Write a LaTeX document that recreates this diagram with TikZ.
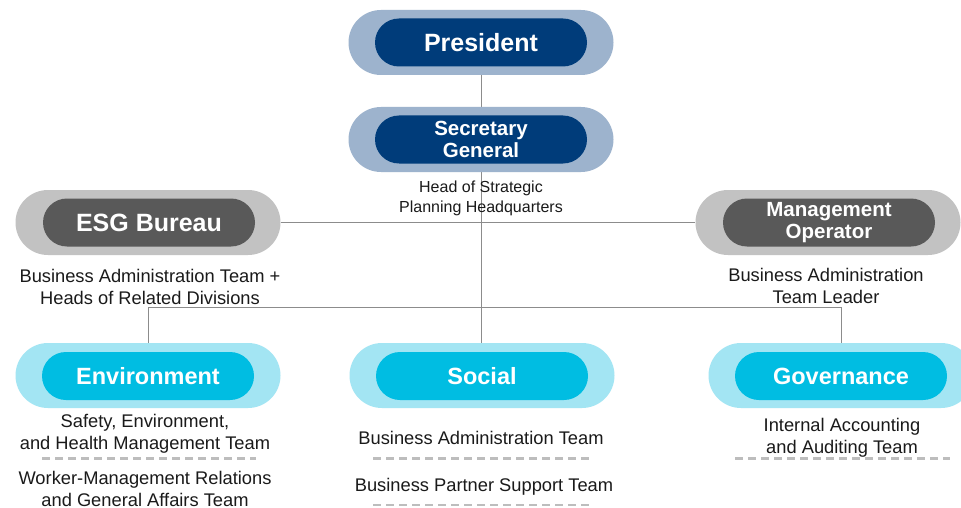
\documentclass[tikz,border=0pt]{standalone}
\usepackage{fontspec}
\setmainfont{Liberation Sans}
\usetikzlibrary{backgrounds}
\definecolor{navyO}{HTML}{9DB3CD}
\definecolor{navyI}{HTML}{003C7A}
\definecolor{grayO}{HTML}{C2C2C2}
\definecolor{grayI}{HTML}{595959}
\definecolor{cyanO}{HTML}{A3E5F3}
\definecolor{cyanI}{HTML}{00BDE2}
\definecolor{linec}{HTML}{8C8C8C}
\definecolor{dashc}{HTML}{BDBDBD}
\definecolor{txt}{HTML}{1A1A1A}
\tikzset{
  outerbox/.style={rectangle, rounded corners=32.5pt, minimum width=265pt, minimum height=65pt, inner sep=0pt},
  innerbox/.style={rectangle, rounded corners=24pt, minimum width=212pt, minimum height=48pt, inner sep=0pt, text=white, align=center},
  bigfont/.style={font=\fontsize{25}{28}\selectfont\bfseries},
  midfont/.style={font=\fontsize{23.5}{26}\selectfont\bfseries},
  twofont/.style={font=\fontsize{20.5}{22}\selectfont\bfseries},
  label/.style={text=txt, align=center, inner sep=0pt, font=\fontsize{18.3}{22}\selectfont},
  smlabel/.style={text=txt, align=center, inner sep=0pt, font=\fontsize{16}{20}\selectfont},
  conn/.style={draw=linec, line width=1pt},
  sep/.style={draw=dashc, line width=2.3pt, dash pattern=on 8pt off 5pt},
}
\begin{document}
\begin{tikzpicture}[x=1pt,y=-1pt]
\clip (0,0) rectangle (961,508);
% outer shapes
\node[outerbox, fill=navyO] (presO) at (481,42.5) {};
\node[outerbox, fill=navyO] (secO) at (481,139.5) {};
\node[outerbox, fill=grayO] (esgO) at (148,222.5) {};
\node[outerbox, fill=grayO] (mgmtO) at (828,222.5) {};
\node[outerbox, fill=cyanO] (envO) at (148,375.5) {};
\node[outerbox, fill=cyanO] (socO) at (482,375.5) {};
\node[outerbox, fill=cyanO] (govO) at (841,375.5) {};
% inner shapes
\node[innerbox, fill=navyI, bigfont] (pres) at (481,42.5) {President};
\node[innerbox, fill=navyI, twofont] (sec) at (481,139.5) {Secretary\\General};
\node[innerbox, fill=grayI, bigfont] (esg) at (149,222.5) {ESG Bureau};
\node[innerbox, fill=grayI, twofont] (mgmt) at (829,222.5) {Management\\Operator};
\node[innerbox, fill=cyanI, midfont] (env) at (148,376) {Environment};
\node[innerbox, fill=cyanI, midfont] (soc) at (482,376) {Social};
\node[innerbox, fill=cyanI, midfont] (gov) at (841,376) {Governance};
% labels
\node[smlabel] (head) at (481,198) {Head of Strategic\\Planning Headquarters};
\node[label] (esgL) at (150,287) {Business Administration Team +\\Heads of Related Divisions};
\node[label] (mgmtL) at (826,285.5) {Business Administration\\Team Leader};
\node[label] (envL1) at (145,433.5) {Safety, Environment,\\and Health Management Team};
\node[label] (envL2) at (145,488.5) {Worker-Management Relations\\and General Affairs Team};
\node[label] (socL1) at (481,438) {Business Administration Team};
\node[label] (socL2) at (484,487) {Business Partner Support Team};
\node[label] (govL1) at (842,437.5) {Internal Accounting\\and Auditing Team};
% dashed separators
\draw[sep] (42,458.5) -- (256,458.5);
\draw[sep] (373,458.5) -- (590,458.5);
\draw[sep] (373,505) -- (590,505);
\draw[sep] (735,458.5) -- (950,458.5);
% connectors
\coordinate (bus) at (481,307.5);
\begin{scope}[on background layer]
\fill[white] (0,0) rectangle (961,508);
\draw[conn] (presO.south) -- (presO.south |- socO.north);
\draw[conn] (esgO.east) -- (esgO.east -| mgmtO.west);
\draw[conn] (envO.north) -- (envO.north |- bus) -- (govO.north |- bus) -- (govO.north);
\end{scope}
\end{tikzpicture}
\end{document}
